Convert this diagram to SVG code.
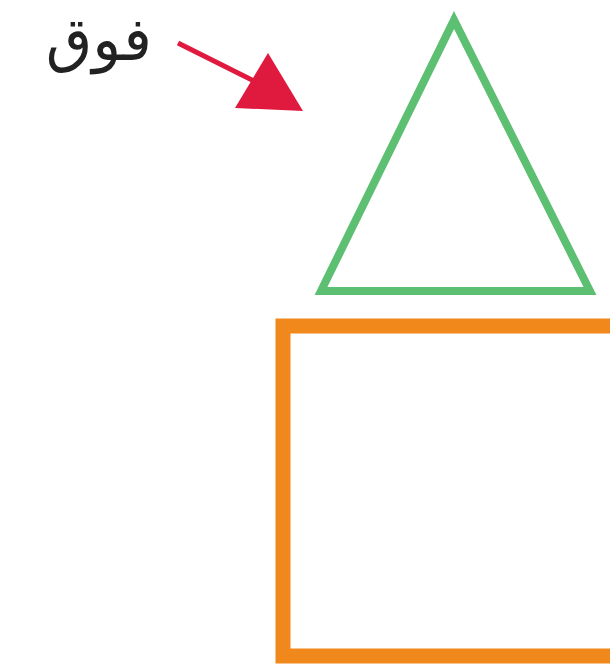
<svg xmlns="http://www.w3.org/2000/svg" width="610" height="668" viewBox="0 0 610 668">
<style>
.lbl{font-family:"DejaVu Sans","Noto Sans",sans-serif;font-size:60px;fill:#222}
.tri{fill:none;stroke:#5cbf72;stroke-width:8;stroke-linejoin:miter}
.sq{fill:none;stroke:#f0881c;stroke-width:15}
.arr{stroke:#e0193f;stroke-width:5;fill:none}
</style>
<rect width="610" height="668" fill="#fff"/>
<g id="label"><text class="lbl" x="152" y="60" text-anchor="end">فوق</text></g>
<g id="triangle"><polygon class="tri" points="454,20 321,291 590,291"/></g>
<g id="square"><rect class="sq" x="283" y="326" width="340" height="330"/></g>
<g id="connectors">
<line class="arr" x1="178" y1="43" x2="262" y2="85"/>
<polygon points="303,111 268,53 235,108" fill="#e0193f"/>
</g>
</svg>
